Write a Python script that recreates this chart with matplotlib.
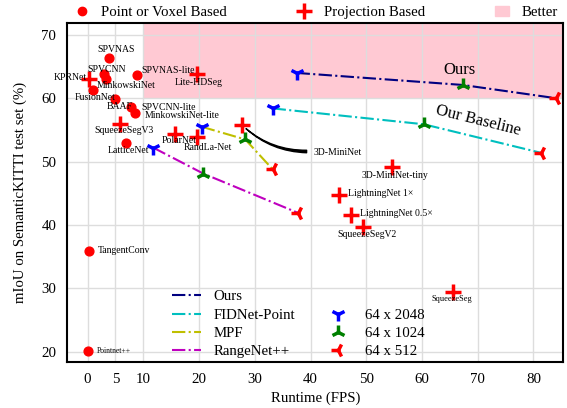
import matplotlib
matplotlib.use("Agg")
import matplotlib.pyplot as plt
from matplotlib.lines import Line2D
from matplotlib.patches import Patch

plt.rcParams["font.family"] = ["Liberation Serif", "DejaVu Serif"]

# point / voxel based methods: (name, fps, miou)
pv_names = ["SPVNAS", "SPVCNN", "MinkowskiNet", "SPVNAS-lite", "FusionNet", "BAAF",
            "SPVCNN-lite", "MinkowskiNet-lite", "LatticeNet", "TangentConv", "Pointnet++"]
pv_fps = [3.8, 3.0, 3.3, 8.9, 0.9, 4.9, 7.8, 8.5, 6.9, 0.3, 0.1]
pv_miou = [66.4, 63.8, 63.1, 63.7, 61.3, 59.9, 58.7, 57.6, 52.9, 35.9, 20.1]

# projection based methods
pr_names = ["KPRNet", "Lite-HDSeg", "SqueezeSegV3", "PolarNet", "RandLa-Net", "3D-MiniNet",
            "3D-MiniNet-tiny", "LightningNet 1×", "LightningNet 0.5×", "SqueezeSegV2", "SqueezeSeg"]
pr_fps = [0.3, 19.6, 5.9, 15.7, 19.7, 27.7, 54.6, 45.1, 47.2, 49.5, 65.5]
pr_miou = [63.1, 63.8, 55.9, 54.3, 53.9, 55.8, 49.2, 44.8, 41.6, 39.7, 29.5]

# label placement for each method (x, y, ha)
pv_text = [(5.2, 67.7, "center"), (3.4, 64.6, "center"), (1.7, 62.0, "left"),
           (9.7, 64.4, "left"), (-2.3, 60.1, "left"), (3.4, 58.7, "left"),
           (9.6, 58.5, "left"), (10.3, 57.3, "left"), (3.7, 51.7, "left"),
           (1.9, 35.9, "left"), (1.7, 20.1, "left")]
pr_text = [(-0.15, 63.3, "right"), (19.9, 62.5, "center"), (1.2, 54.9, "left"),
           (13.3, 53.3, "left"), (17.3, 52.2, "left"), (40.6, 51.5, "left"),
           (55.2, 47.8, "center"), (46.8, 45.0, "left"), (48.9, 41.8, "left"),
           (44.9, 38.5, "left"), (61.7, 28.3, "left")]
pr_small = {"Pointnet++": 5.5, "SqueezeSeg": 6.0}

# our models at 64x2048, 64x1024, 64x512
ours_fps = [37.5, 67.3, 84.1]
ours_miou = [64.0, 62.1, 60.0]
fid_fps = [33.2, 60.3, 81.3]
fid_miou = [58.4, 55.9, 51.4]
mpf_fps = [20.5, 28.3, 33.2]
mpf_miou = [55.5, 53.5, 48.8]
rn_fps = [11.8, 20.8, 37.8]
rn_miou = [52.2, 48.1, 41.9]

series = [("Ours", ours_fps, ours_miou, "navy"),
          ("FIDNet-Point", fid_fps, fid_miou, "c"),
          ("MPF", mpf_fps, mpf_miou, "y"),
          ("RangeNet++", rn_fps, rn_miou, "m")]
res_labels = ["64 x 2048", "64 x 1024", "64 x 512"]
res_markers = ["1", "2", "3"]
res_colors = ["blue", "green", "red"]

x_ticks = [0, 5, 10, 20, 30, 40, 50, 60, 70, 80]
y_ticks = [20, 30, 40, 50, 60, 70]


def main():
    fig = plt.figure(figsize=(5.67, 4.08), dpi=100)
    ax = fig.add_axes([0.119, 0.113, 0.874, 0.831])

    ax.set_xlim(-3.6, 85.3)
    ax.set_ylim(18.4, 71.9)
    ax.axvspan(10, 90, ymin=(60 - 18.4) / (71.9 - 18.4), ymax=1, color="#ffc9d3", lw=0, zorder=0)
    ax.set_xticks(x_ticks)
    ax.set_yticks(y_ticks)
    ax.tick_params(length=0, labelsize=10.7, pad=8)
    ax.grid(color="#dddddd", lw=1, zorder=1)
    for sp in ax.spines.values():
        sp.set_linewidth(1.5)

    ax.scatter(pv_fps, pv_miou, s=40, color="red", zorder=4)
    ax.plot(pr_fps, pr_miou, "+", color="red", ms=11, mew=2.5, zorder=4)

    for name, (tx, ty, ha) in zip(pv_names, pv_text):
        ax.text(tx, ty, name, fontsize=pr_small.get(name, 7), ha=ha, va="center", zorder=5)
    for name, (tx, ty, ha) in zip(pr_names, pr_text):
        ax.text(tx, ty, name, fontsize=pr_small.get(name, 7), ha=ha, va="center", zorder=5)

    ax.annotate("", xy=(pr_fps[5], pr_miou[5]), xytext=(39.3, 51.6),
                arrowprops=dict(arrowstyle="wedge,tail_width=0.18", color="black",
                                connectionstyle="arc3,rad=-0.2", shrinkA=0, shrinkB=4,
                                mutation_scale=10), zorder=5)

    handles = []
    for name, xs, ys, c in series:
        ln, = ax.plot(xs, ys, "-.", color=c, lw=1.5, label=name, zorder=3)
        handles.append(ln)
        for x, y, m, mc in zip(xs, ys, res_markers, res_colors):
            ax.plot(x, y, m, color=mc, ms=10, mew=2.5, zorder=4)

    ax.text(63.8, 64.4, "Ours", fontsize=12, ha="left", va="center")
    ax.text(70.0, 56.5, "Our Baseline", fontsize=12, ha="center", va="center", rotation=-14)

    blank = Line2D([], [], linestyle="none", label=" ")
    res_handles = [Line2D([], [], linestyle="none", marker=m, color=c, ms=10, mew=2.5, label=l)
                   for m, c, l in zip(res_markers, res_colors, res_labels)]
    ax.legend(handles=handles + [blank] + res_handles, ncol=2, frameon=False, fontsize=10.7,
              loc="lower left", bbox_to_anchor=(0.183, -0.029), labelspacing=0.33,
              handlelength=2.0, handletextpad=0.8, columnspacing=1.9)

    ax.set_xlabel("Runtime (FPS)", fontsize=10.7, labelpad=4)
    ax.set_ylabel("mIoU on SemanticKITTI test set (%)", fontsize=10.7, labelpad=10)

    top_handles = [Line2D([], [], linestyle="none", marker="o", color="red", ms=6),
                   Line2D([], [], linestyle="none", marker="+", color="red", ms=11, mew=2.5),
                   Patch(color="#ffc9d3")]
    fig.legend(top_handles, ["Point or Voxel Based", "Projection Based", "Better"],
               ncol=3, frameon=False, fontsize=10.7, loc="upper left",
               bbox_to_anchor=(0.113, 1.012), handlelength=1.0, handletextpad=0.8,
               columnspacing=4.7, borderpad=0.2)

    fig.savefig("out.png", dpi=100)


if __name__ == "__main__":
    main()
